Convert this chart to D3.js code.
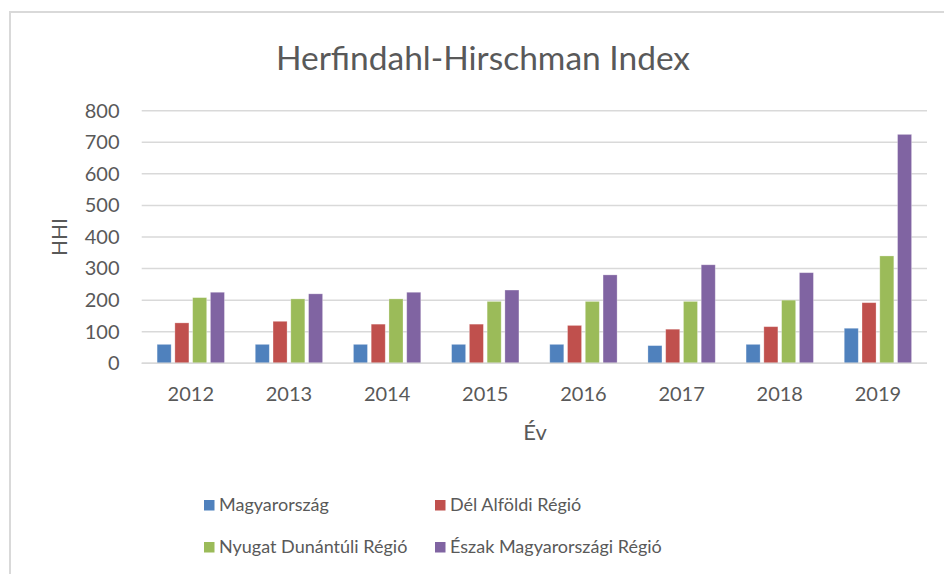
<!DOCTYPE html>
<html><head><meta charset="utf-8">
<script src="https://cdn.jsdelivr.net/npm/d3@7/dist/d3.min.js"></script>
<style>
html,body{margin:0;padding:0;background:#fff;}
svg{display:block;font-family:Lato, "Open Sans", sans-serif;}
</style></head>
<body>
<svg id="chart" width="944" height="574"></svg>
<script>
const years = ["2012","2013","2014","2015","2016","2017","2018","2019"];
const seriesNames = ["Magyarország","Dél Alföldi Régió","Nyugat Dunántúli Régió","Észak Magyarországi Régió"];
const magyarorszag = [60, 60, 60, 60, 60, 56, 60, 111];
const delAlfoldi   = [128, 133, 124, 124, 120, 108, 116, 192];
const nyugatDunantuli = [208, 204, 204, 196, 196, 196, 200, 340];
const eszakMagyar  = [225, 220, 225, 232, 280, 312, 287, 725];
const yTicks = [0,100,200,300,400,500,600,700,800];
const colors = ["#4F81BD","#C0504D","#9BBB59","#8064A2"];
const title = "Herfindahl-Hirschman Index";
const yTitle = "HHI";
const xTitle = "Év";

const seriesValues = [magyarorszag, delAlfoldi, nyugatDunantuli, eszakMagyar];
const svg = d3.select("#chart");
const textColor = "#595959";

// chart frame
svg.append("rect").attr("x",10).attr("y",12).attr("width",960).attr("height",600)
  .attr("fill","#fff").attr("stroke","#d9d9d9").attr("stroke-width",2);

const pLeft = 141.7, pRight = 927, pTop = 110.7, pBottom = 363.3;
const x0 = d3.scaleBand().domain(years).range([pLeft,pRight]).padding(0);
const bw = x0.bandwidth();
const gw = bw*0.686;
const x1 = d3.scaleBand().domain(seriesNames).range([(bw-gw)/2,(bw+gw)/2]).paddingInner(0.21);
const y = d3.scaleLinear().domain([0,800]).range([pBottom,pTop]);

// gridlines
svg.append("g").selectAll("line").data(yTicks).join("line")
  .attr("x1",pLeft).attr("x2",pRight)
  .attr("y1",d=>y(d)).attr("y2",d=>y(d))
  .attr("stroke","#d9d9d9").attr("stroke-width",1.5);

// y axis labels
const yAxis = d3.axisLeft(y).tickValues(yTicks).tickSize(0).tickPadding(0);
const yg = svg.append("g").attr("transform",`translate(${119.5},0)`).call(yAxis);
yg.select(".domain").remove();
yg.selectAll("text").attr("font-size",20).attr("fill",textColor).attr("font-family","Lato, sans-serif");

// bars
const groups = svg.append("g").selectAll("g").data(years).join("g")
  .attr("transform",d=>`translate(${x0(d)},0)`);
groups.selectAll("rect").data((yr,i)=>seriesNames.map((s,j)=>({s, j, v: seriesValues[j][i]})))
  .join("rect")
  .attr("x",d=>x1(d.s)).attr("width",x1.bandwidth())
  .attr("y",d=>y(d.v)).attr("height",d=>y(0)-y(d.v))
  .attr("fill",d=>colors[d.j])
  .attr("stroke","rgba(255,255,255,0.35)").attr("stroke-width",0.8);

// x axis
const xAxis = d3.axisBottom(x0).tickSize(0).tickPadding(0);
const xg = svg.append("g").attr("transform",`translate(0,${pBottom})`).call(xAxis);
xg.select(".domain").remove();
xg.selectAll("text").attr("font-size",20).attr("fill",textColor).attr("dy","38px").attr("font-family","Lato, sans-serif");
svg.append("line").attr("x1",pLeft).attr("x2",pRight).attr("y1",pBottom).attr("y2",pBottom)
  .attr("stroke","#d9d9d9").attr("stroke-width",1.5);

// titles
svg.append("text").attr("x",483).attr("y",70).attr("text-anchor","middle")
  .attr("font-size",33.5).attr("fill",textColor).text(title);
svg.append("text").attr("transform","translate(67,237) rotate(-90)").attr("text-anchor","middle")
  .attr("font-size",21).attr("fill",textColor).text(yTitle);
svg.append("text").attr("x",535).attr("y",440).attr("text-anchor","middle")
  .attr("font-size",22).attr("fill",textColor).text(xTitle);

// legend
const legPos = [[204,505],[435,505],[204,547],[435,547]];
const leg = svg.append("g").selectAll("g").data(seriesNames).join("g")
  .attr("transform",(d,i)=>`translate(${legPos[i][0]},${legPos[i][1]})`);
leg.append("rect").attr("x",0).attr("y",-5).attr("width",10.5).attr("height",10.5)
  .attr("fill",(d,i)=>colors[i]);
leg.append("text").attr("x",15).attr("y",0).attr("dy","0.36em")
  .attr("font-size",18).attr("fill",textColor).text(d=>d);
</script>
</body></html>
